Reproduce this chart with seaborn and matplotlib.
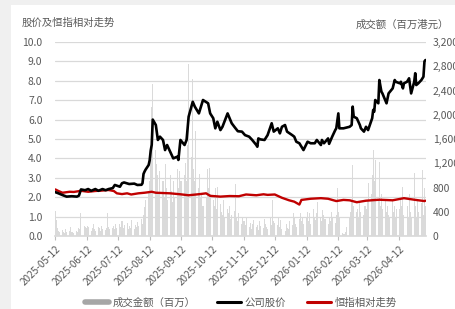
import matplotlib
matplotlib.use("Agg")
import matplotlib.pyplot as plt
from matplotlib.lines import Line2D
from matplotlib.patches import Rectangle
import matplotlib.ticker as mticker
import seaborn as sns
import pandas as pd

# ---------------- data ----------------
price_dates = [
    "2025-05-12", "2025-05-15", "2025-05-19", "2025-05-23", "2025-05-28", "2025-06-02", "2025-06-04",
    "2025-06-06", "2025-06-10", "2025-06-13", "2025-06-16", "2025-06-20", "2025-06-23", "2025-06-27",
    "2025-06-30", "2025-07-03", "2025-07-07", "2025-07-09", "2025-07-14", "2025-07-16", "2025-07-18",
    "2025-07-23", "2025-07-28", "2025-07-31", "2025-08-04", "2025-08-05", "2025-08-06", "2025-08-07",
    "2025-08-08", "2025-08-11", "2025-08-12", "2025-08-13", "2025-08-14", "2025-08-15", "2025-08-18",
    "2025-08-20", "2025-08-22", "2025-08-25", "2025-08-27", "2025-08-29", "2025-09-01", "2025-09-04",
    "2025-09-08", "2025-09-09", "2025-09-11", "2025-09-15", "2025-09-17", "2025-09-19", "2025-09-23",
    "2025-09-25", "2025-09-29", "2025-10-01", "2025-10-03", "2025-10-08", "2025-10-10", "2025-10-13",
    "2025-10-15", "2025-10-17", "2025-10-20", "2025-10-22", "2025-10-27", "2025-10-29", "2025-10-31",
    "2025-11-03", "2025-11-06", "2025-11-10", "2025-11-13", "2025-11-17", "2025-11-20", "2025-11-24",
    "2025-11-25", "2025-11-26", "2025-11-28", "2025-12-02", "2025-12-05", "2025-12-09", "2025-12-11",
    "2025-12-15", "2025-12-17", "2025-12-19", "2025-12-22", "2025-12-24", "2025-12-29", "2025-12-31",
    "2026-01-02", "2026-01-05", "2026-01-08", "2026-01-09", "2026-01-13", "2026-01-16", "2026-01-20",
    "2026-01-22", "2026-01-26", "2026-01-27", "2026-01-29", "2026-02-02", "2026-02-03", "2026-02-06",
    "2026-02-09", "2026-02-10", "2026-02-12", "2026-02-13", "2026-02-17", "2026-02-23", "2026-02-25",
    "2026-02-26", "2026-02-27", "2026-03-02", "2026-03-05", "2026-03-06", "2026-03-09", "2026-03-11",
    "2026-03-13", "2026-03-17", "2026-03-18", "2026-03-19", "2026-03-20", "2026-03-23", "2026-03-24",
    "2026-03-26", "2026-03-27", "2026-03-31", "2026-04-02", "2026-04-06", "2026-04-08", "2026-04-09",
    "2026-04-13", "2026-04-14", "2026-04-16", "2026-04-17", "2026-04-20", "2026-04-22", "2026-04-24",
    "2026-04-27", "2026-04-28", "2026-04-29", "2026-05-01", "2026-05-04", "2026-05-06", "2026-05-07",
    "2026-05-08",
]
price_values = [
    2.26, 2.20, 2.11, 2.03, 2.05, 2.03, 2.08,
    2.40, 2.36, 2.42, 2.33, 2.42, 2.33, 2.42,
    2.36, 2.42, 2.47, 2.63, 2.54, 2.72, 2.76,
    2.68, 2.70, 2.63, 2.64, 2.72, 3.20, 3.32,
    3.42, 3.66, 3.90, 4.40, 4.70, 6.00, 5.72,
    4.95, 5.12, 4.95, 4.43, 4.69, 4.35, 4.00,
    4.09, 3.92, 4.95, 4.69, 4.95, 6.15, 6.92,
    6.67, 6.32, 6.67, 7.01, 6.84, 6.32, 6.07,
    5.55, 5.89, 5.46, 5.63, 6.32, 6.07, 5.81,
    5.60, 5.40, 5.38, 5.20, 5.12, 4.95, 4.69,
    4.60, 5.03, 4.98, 4.95, 5.20, 5.81, 5.38,
    5.55, 5.29, 5.63, 5.72, 5.38, 5.20, 5.12,
    4.86, 4.78, 4.52, 4.43, 4.86, 4.78, 4.78,
    4.95, 4.69, 4.95, 4.78, 5.03, 4.75, 5.12,
    5.46, 5.55, 6.32, 5.55, 5.55, 5.63, 5.72,
    6.67, 6.15, 6.07, 5.72, 5.55, 5.38, 5.63,
    5.46, 6.07, 6.50, 6.41, 7.01, 6.84, 8.04,
    7.44, 7.35, 6.84, 7.35, 7.61, 8.04, 7.95,
    7.87, 7.95, 7.61, 7.87, 7.95, 8.13, 7.35,
    7.95, 8.39, 7.78, 7.87, 8.04, 8.21, 9.00,
    9.07,
]

hsi_dates = [
    "2025-05-12", "2025-05-15", "2025-05-19", "2025-05-26", "2025-05-30", "2025-06-06", "2025-06-13",
    "2025-06-20", "2025-06-26", "2025-07-03", "2025-07-08", "2025-07-11", "2025-07-16", "2025-07-21",
    "2025-07-25", "2025-08-01", "2025-08-07", "2025-08-14", "2025-08-18", "2025-09-01", "2025-09-11",
    "2025-09-19", "2025-09-30", "2025-10-06", "2025-10-10", "2025-10-20", "2025-10-29", "2025-11-07",
    "2025-11-14", "2025-11-24", "2025-12-01", "2025-12-05", "2025-12-12", "2025-12-19", "2025-12-26",
    "2025-12-31", "2026-01-05", "2026-01-07", "2026-01-16", "2026-01-26", "2026-02-02", "2026-02-10",
    "2026-02-17", "2026-02-23", "2026-03-02", "2026-03-11", "2026-03-24", "2026-04-06", "2026-04-17",
    "2026-04-27", "2026-05-07", "2026-05-08",
]
hsi_values = [
    2.40, 2.32, 2.23, 2.28, 2.27, 2.33, 2.28,
    2.32, 2.34, 2.37, 2.32, 2.20, 2.16, 2.20,
    2.14, 2.20, 2.23, 2.28, 2.23, 2.20, 2.15,
    2.10, 2.16, 2.20, 2.07, 2.03, 2.06, 2.05,
    2.14, 2.10, 2.15, 2.12, 2.14, 1.97, 1.84,
    1.77, 1.62, 1.86, 1.92, 1.95, 1.92, 1.80,
    1.86, 1.84, 1.74, 1.82, 1.87, 1.84, 1.95,
    1.87, 1.80, 1.82,
]

# daily turnover (HK$ mn), one list per month-window starting on the 12th
vol_m1 = [420, 260, 130, 90, 70, 100, 60, 50, 120, 60, 80, 150, 70, 60, 50, 90, 60, 130, 110, 380, 160, 150, 140]
vol_m2 = [170, 150, 90, 130, 200, 110, 80, 150, 130, 90, 160, 120, 100, 140, 380, 150, 110, 130, 170, 120, 200, 140]
vol_m3 = [200, 150, 250, 130, 180, 220, 120, 160, 140, 260, 110, 180, 150, 230, 170, 280, 200, 350, 480, 600, 750]
vol_m4 = [900, 1400, 2130, 2500, 1420, 1190, 1000, 700, 1080, 900, 640, 1190, 800, 600, 1000, 750, 560, 900, 650, 1100, 800, 1075, 900]
vol_m5 = [910, 1000, 1200, 900, 1500, 2840, 1300, 2590, 1100, 900, 1740, 800, 1020, 640, 700, 500, 640, 1100, 800, 1120, 700]
vol_m6 = [600, 500, 800, 450, 810, 520, 400, 350, 600, 300, 450, 380, 500, 280, 350, 420, 860, 300, 250, 380, 200, 300]
vol_m7 = [250, 180, 300, 150, 220, 120, 200, 260, 150, 180, 100, 240, 160, 130, 280, 200, 150, 120, 300, 180, 600, 250]
vol_m8 = [220, 180, 300, 150, 260, 120, 90, 200, 140, 110, 250, 180, 380, 300, 200, 150, 280, 380, 250, 320, 200]
vol_m9 = [300, 400, 250, 380, 200, 450, 300, 260, 380, 566, 320, 250, 430, 350, 280, 200, 300, 250, 400, 300, 220, 350, 790]
vol_m10 = [400, 300, 50, 30, 40, 60, 150, 300, 400, 600, 1170, 500, 400, 450, 300, 550, 400, 350, 500, 450]
vol_m11 = [600, 870, 700, 1000, 1420, 900, 1250, 600, 1225, 500, 700, 450, 600, 400, 500, 350, 300, 600, 400, 500, 300, 450]
vol_m12 = [450, 600, 500, 810, 350, 500, 300, 700, 400, 300, 1040, 500, 300, 600, 400, 550, 1090, 350, 800, 500]
vol_start = "2025-05-12"
vol_end = "2026-05-08"

tick_labels = ["2025-05-12", "2025-06-12", "2025-07-12", "2025-08-12", "2025-09-12", "2025-10-12",
               "2025-11-12", "2025-12-12", "2026-01-12", "2026-02-12", "2026-03-12", "2026-04-12"]
left_ticks = [0, 1, 2, 3, 4, 5, 6, 7, 8, 9, 10]
right_ticks = [0, 400, 800, 1200, 1600, 2000, 2400, 2800, 3200]

# ---------------- build ----------------
vol_values = (vol_m1 + vol_m2 + vol_m3 + vol_m4 + vol_m5 + vol_m6 + vol_m7 + vol_m8 +
              vol_m9 + vol_m10 + vol_m11 + vol_m12)
vol_dates = pd.bdate_range(vol_start, vol_end)
n = min(len(vol_dates), len(vol_values))
vol_df = pd.DataFrame({"date": vol_dates[:n], "vol": vol_values[:n]})
price_df = pd.DataFrame({"date": pd.to_datetime(price_dates), "price": price_values})
hsi_df = pd.DataFrame({"date": pd.to_datetime(hsi_dates), "hsi": hsi_values})

sns.set_theme(style="white")
plt.rcParams["font.family"] = ["Noto Sans CJK SC", "DejaVu Sans"]
TXT = "#595959"

W, H = 456, 309
fig = plt.figure(figsize=(W / 100, H / 100), dpi=100, facecolor="#f0f0f0")
fig.patches.append(Rectangle((11 / W, 0), 1, 1 - 5 / H, transform=fig.transFigure,
                             facecolor="white", edgecolor="none", zorder=-10))

ax = fig.add_axes([55 / W, 1 - 236 / H, (426 - 55) / W, (236 - 42) / H])
ax2 = ax.twinx()

# volume bars on right axis
ax2.bar(vol_df["date"], vol_df["vol"], width=1.0, color="#dadada", linewidth=0)
ax2.set_ylim(0, 3200)
ax2.set_yticks(right_ticks)
ax2.yaxis.set_major_formatter(mticker.FuncFormatter(lambda v, p: f"{v:,.0f}"))
ax2.tick_params(axis="y", length=0, pad=5, labelsize=7.5, labelcolor=TXT)
ax2.grid(False)
for s in ax2.spines.values():
    s.set_visible(False)

# lines on left axis, drawn above bars
ax.set_zorder(ax2.get_zorder() + 1)
ax.patch.set_visible(False)
sns.lineplot(data=hsi_df, x="date", y="hsi", ax=ax, color="#c00000", linewidth=1.7)
sns.lineplot(data=price_df, x="date", y="price", ax=ax, color="black", linewidth=1.9)

ax.set_ylim(0, 10)
ax.set_yticks(left_ticks)
ax.yaxis.set_major_formatter(mticker.FormatStrFormatter("%.1f"))
ax.set_xlim(pd.Timestamp("2025-05-11 16:00"), pd.Timestamp("2026-05-08 12:00"))
ax.set_xticks(pd.to_datetime(tick_labels))
ax.set_xticklabels(tick_labels, rotation=45, ha="right", rotation_mode="anchor")
ax.set_xlabel("")
ax.set_ylabel("")
ax2.set_ylabel("")
ax.yaxis.grid(True, color="#d9d9d9", linewidth=0.9)
ax.xaxis.grid(False)
ax.set_axisbelow(True)
for k, s in ax.spines.items():
    s.set_visible(k == "bottom")
ax.spines["bottom"].set_color("#d9d9d9")
ax.tick_params(axis="y", length=0, pad=9, labelsize=7.5, labelcolor=TXT)
ax.tick_params(axis="x", length=3, color="#bfbfbf", width=0.8, labelsize=7.2, labelcolor=TXT, pad=3,
               bottom=True)

fig.text(22 / W, 1 - 23 / H, "股价及恒指相对走势", fontsize=7.5, color=TXT, ha="left", va="center")
fig.text(449 / W, 1 - 25 / H, "成交额（百万港元）", fontsize=7.5, color=TXT, ha="right", va="center")

handles = [Line2D([], [], color="#a6a6a6", linewidth=4),
           Line2D([], [], color="black", linewidth=2.2),
           Line2D([], [], color="#c00000", linewidth=2.2)]
labels = ["成交金额（百万）", "公司股价", "恒指相对走势"]
fig.legend(handles, labels, loc="center", bbox_to_anchor=(241 / W, 1 - 303 / H), ncol=3,
           frameon=False, fontsize=7.5, handlelength=2.3, handletextpad=0.4, columnspacing=2.0,
           labelcolor=TXT)

fig.savefig("out.png", dpi=100, facecolor=fig.get_facecolor())
